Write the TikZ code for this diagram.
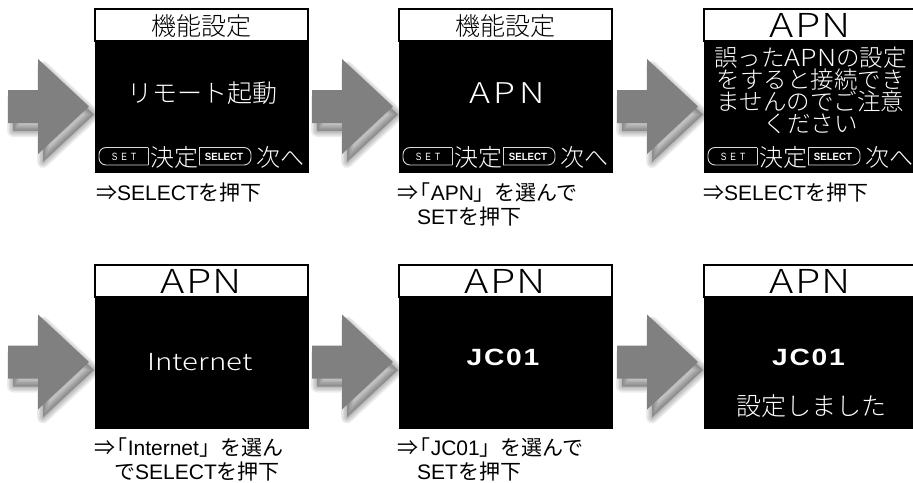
\documentclass[tikz,border=0pt]{standalone}
\usepackage{fontspec}
\setmainfont{Noto Sans CJK JP}
\newfontfamily\lcd{Noto Sans CJK JP Light}
\newfontfamily\enx{Liberation Sans}
\definecolor{arrowgray}{RGB}{128,128,128}
\newcommand\wide[2]{\scalebox{#1}[1]{#2}}
\tikzset{
  hdrbox/.style={draw=black, line width=1.3pt, fill=white, minimum width=213pt, minimum height=32pt, inner sep=0pt, outer sep=0pt, anchor=north west},
  lcdbox/.style={draw=black, fill=black, line width=1pt, minimum width=213pt, minimum height=131pt, inner sep=0pt, outer sep=0pt, anchor=north west},
  hdrtxt/.style={anchor=base, inner sep=0pt, text=black, font=\lcd\fontsize{25}{25}\selectfont},
  lcdtxt/.style={anchor=base, inner sep=0pt, text=white, font=\lcd\fontsize{25}{25}\selectfont},
  msgtxt/.style={anchor=base, inner sep=0pt, text=white, font=\lcd\fontsize{23.5}{23.5}\selectfont},
  bartxt/.style={anchor=base, inner sep=0pt, text=white, font=\lcd\fontsize{24}{24}\selectfont},
  icontxt/.style={anchor=base, inner sep=0pt, text=white, font=\enx\fontsize{10.5}{10.5}\selectfont},
  iconline/.style={draw=white!85!black, line width=0.9pt},
  caption/.style={anchor=base west, inner sep=0pt, text=black, font=\fontsize{21}{21}\selectfont},
  pics/bigarrow/.style={code={
    \begin{scope}[shift={(5,8)}]
      \foreach \w in {12,9,6,3}{
        \draw[black, opacity=0.07, line width=\w pt, line join=round]
          (-81,-16.5) -- (-51,-16.5) -- (-51,-47.5) -- (0,0) -- (-51,47.5) -- (-51,16.5) -- (-81,16.5) -- cycle;}
      \fill[black, opacity=0.25]
          (-81,-16.5) -- (-51,-16.5) -- (-51,-47.5) -- (0,0) -- (-51,47.5) -- (-51,16.5) -- (-81,16.5) -- cycle;
    \end{scope}
    \fill[arrowgray]
      (-81,-16.5) -- (-51,-16.5) -- (-51,-47.5) -- (0,0) -- (-51,47.5) -- (-51,16.5) -- (-81,16.5) -- cycle;
  }}
}
\begin{document}
\begin{tikzpicture}[x=1pt,y=-1pt]
\useasboundingbox (0,0) rectangle (913,482);
\fill[white] (0,0) rectangle (913,482);

% arrows
\pic at (89,106.5) {bigarrow};
\pic at (393,106.5) {bigarrow};
\pic at (698,106.5) {bigarrow};
\pic at (89,362) {bigarrow};
\pic at (393,362) {bigarrow};
\pic at (698,362) {bigarrow};

% row 1 screens
\node[hdrbox] (h1) at (95,9) {};
\node[lcdbox] (b1) at (95,41) {};
\node[hdrbox] (h2) at (399,9) {};
\node[lcdbox] (b2) at (399,41) {};
\node[hdrbox] (h3) at (704,9) {};
\node[lcdbox] (b3) at (704,41) {};
% row 2 screens
\node[hdrbox] (h4) at (95,265) {};
\node[lcdbox] (b4) at (95,297) {};
\node[hdrbox] (h5) at (399,265) {};
\node[lcdbox] (b5) at (399,297) {};
\node[hdrbox] (h6) at (704,265) {};
\node[lcdbox] (b6) at (704,297) {};

% header texts
\node[hdrtxt] (ht1) at (201.5,35.5) {機能設定};
\node[hdrtxt] (ht2) at (505.5,35.5) {機能設定};
\node[hdrtxt, font=\lcd\fontsize{33}{33}\selectfont] (ht3) at (810.5,37) {\wide{1.25}{A\kern1pt P\kern1pt N}};
\node[hdrtxt, font=\lcd\fontsize{33}{33}\selectfont] (ht4) at (201.5,293) {\wide{1.25}{A\kern1pt P\kern1pt N}};
\node[hdrtxt, font=\lcd\fontsize{33}{33}\selectfont] (ht5) at (505.5,293) {\wide{1.25}{A\kern1pt P\kern1pt N}};
\node[hdrtxt, font=\lcd\fontsize{33}{33}\selectfont] (ht6) at (810.5,293) {\wide{1.25}{A\kern1pt P\kern1pt N}};

% body texts
\node[lcdtxt] (s1) at (202,102) {リモート起動};
\node[lcdtxt, font=\lcd\fontsize{28.6}{28.6}\selectfont] (s2) at (507,103) {\wide{1.25}{A\kern3pt P\kern3pt N}};
\node[msgtxt] (s3a) at (810.5,66) {誤った\wide{1.15}{APN}の設定};
\node[msgtxt] (s3b) at (810.5,88) {をすると接続でき};
\node[msgtxt] (s3c) at (810.5,110) {ませんのでご注意};
\node[msgtxt] (s3d) at (810.5,132) {ください};
\node[lcdtxt, font=\lcd\fontsize{23.5}{23.5}\selectfont] (s4) at (200,370) {\wide{1.25}{Internet}};
\node[lcdtxt, font=\enx\bfseries\fontsize{23.5}{23.5}\selectfont] (s5) at (503,365) {\wide{1.2}{J\kern1.5pt C\kern1.5pt 0\kern1.5pt 1}};
\node[lcdtxt, font=\enx\bfseries\fontsize{23.5}{23.5}\selectfont] (s6a) at (808.5,365) {\wide{1.2}{J\kern1.5pt C\kern1.5pt 0\kern1.5pt 1}};
\node[lcdtxt] (s6b) at (811,415) {設定しました};

% bottom bars (row 1)
\foreach \L/\i in {95/1,399/2,704/3}{
  \draw[iconline, rounded corners=7pt] ({\L+53},165) -- ({\L+4},165) -- ({\L+4},147.5) -- ({\L+53},147.5);
  \draw[iconline] ({\L+53},147.5) -- ({\L+53},165);
  \node[icontxt] (set\i) at ({\L+29},160.5) {\wide{0.8}{S\kern5pt E\kern5pt T}};
  \node[bartxt] (ok\i) at ({\L+79},166) {決定};
  \draw[iconline] ({\L+104},147.5) -- ({\L+104},165);
  \draw[iconline, rounded corners=7pt] ({\L+104},165) -- ({\L+156},165) -- ({\L+156},147.5) -- ({\L+104},147.5);
  \node[icontxt, font=\enx\bfseries\fontsize{10.5}{10.5}\selectfont] (sel\i) at ({\L+129},160.5) {\wide{0.92}{SELECT}};
  \node[bartxt] (nx\i) at ({\L+185},166) {次へ};
}

% captions
\node[caption] (c1a) at (96,200) {⇒{\enx SELECT}を押下};
\node[caption] (c2a) at (397,200) {⇒\kern-0.4em「{\enx APN}」を選んで};
\node[caption] (c2b) at (417,224) {{\enx SET}を押下};
\node[caption] (c3a) at (703,200) {⇒{\enx SELECT}を押下};
\node[caption] (c4a) at (94,455) {⇒\kern-0.4em「{\enx Internet}」を選ん};
\node[caption] (c4b) at (114,479) {で{\enx SELECT}を押下};
\node[caption] (c5a) at (397,455) {⇒\kern-0.4em「{\enx JC01}」を選んで};
\node[caption] (c5b) at (417,479) {{\enx SET}を押下};
\end{tikzpicture}
\end{document}
